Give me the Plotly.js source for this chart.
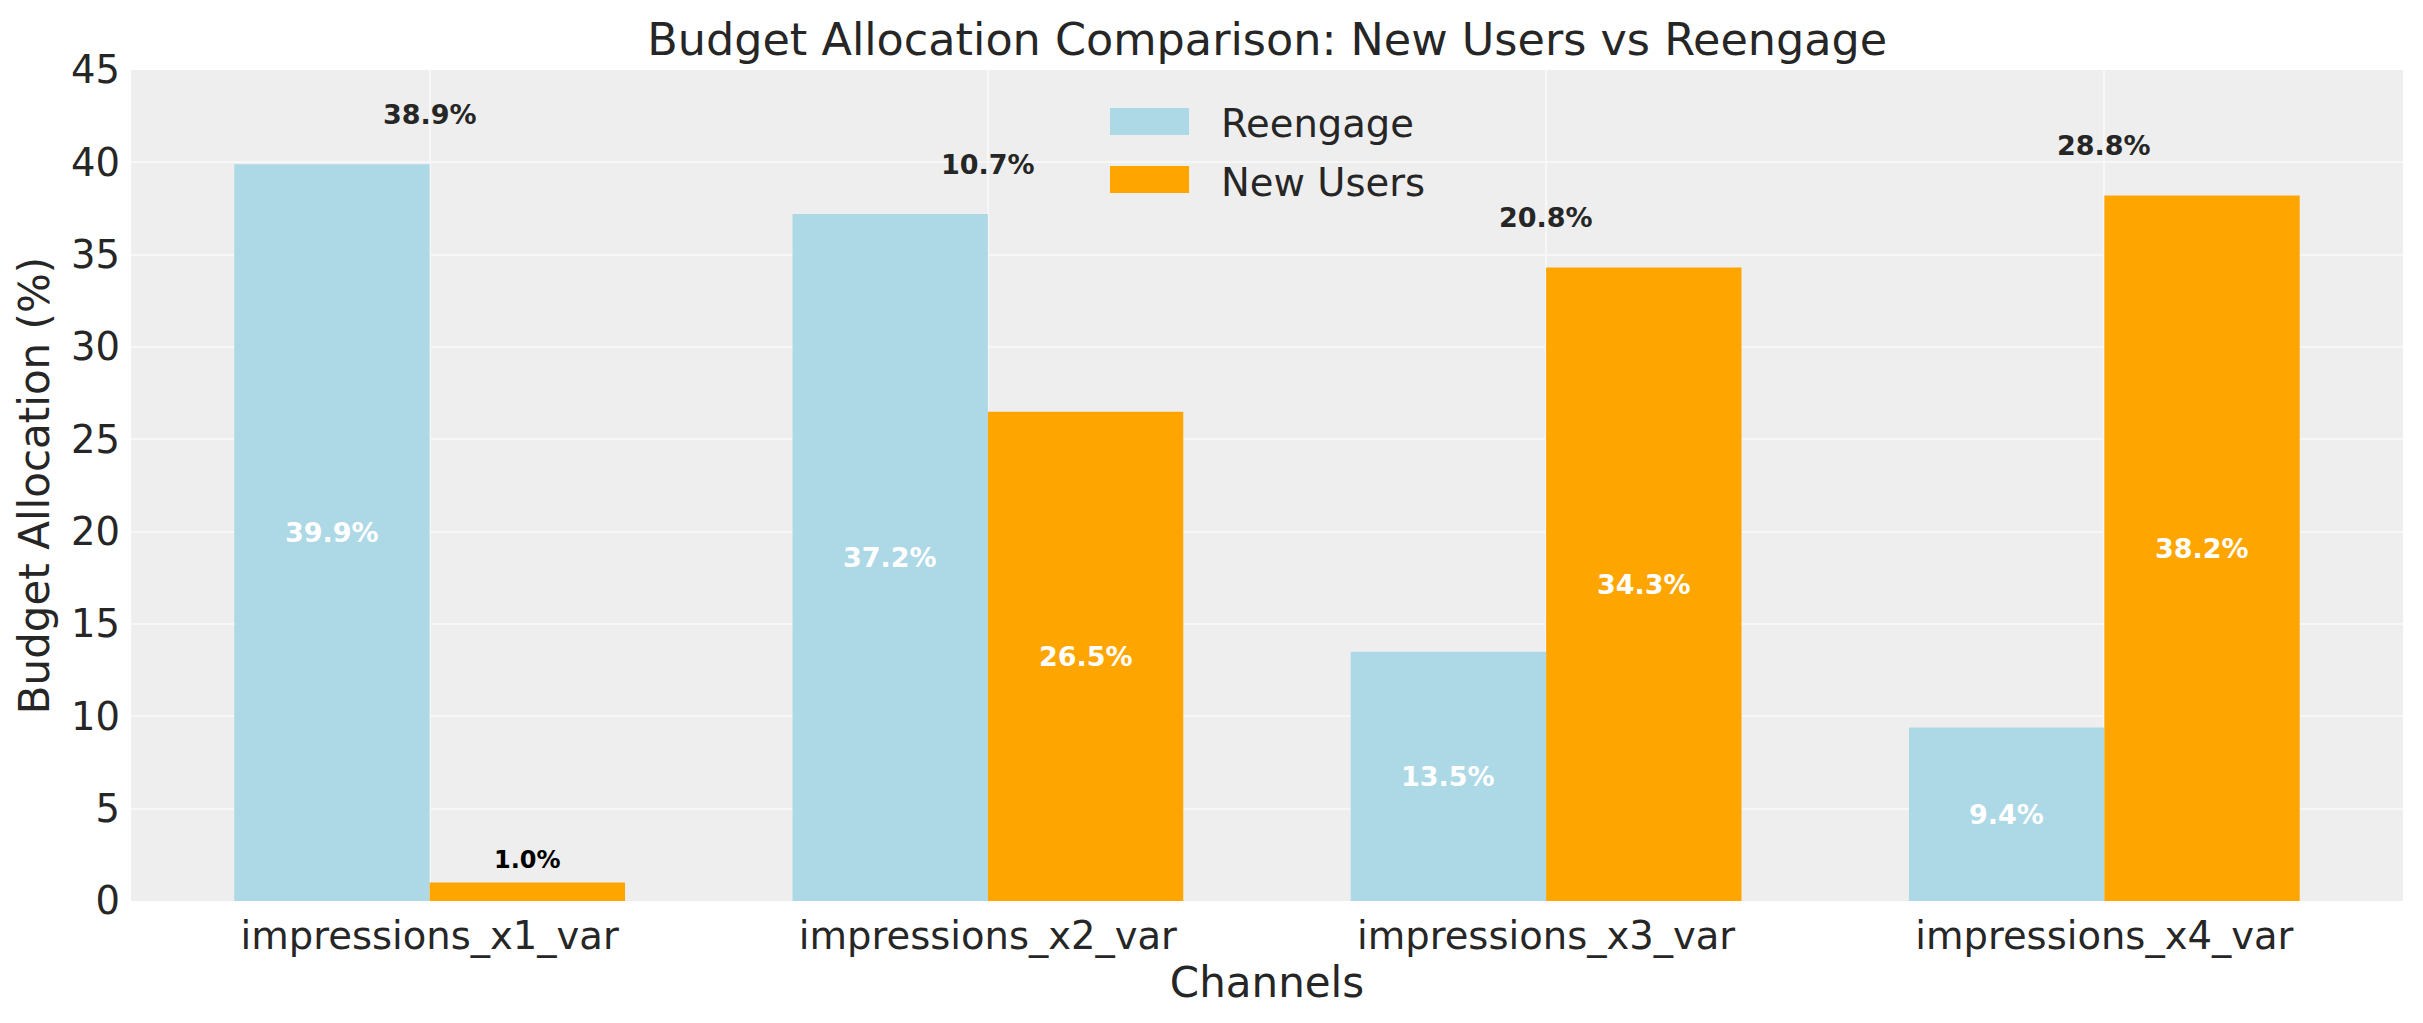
<!DOCTYPE html>
<html>
<head>
<meta charset="utf-8">
<title>Budget Allocation Comparison</title>
<script src="https://cdn.plot.ly/plotly-3.0.1.min.js"></script>
<style>
  html, body { margin: 0; padding: 0; background: #ffffff; }
  #chart { width: 2423px; height: 1023px; }
</style>
</head>
<body>
<div id="chart"></div>
<script>
// ── Data ──
var channels = ['impressions_x1_var', 'impressions_x2_var', 'impressions_x3_var', 'impressions_x4_var'];
var seriesNames = ['Reengage', 'New Users'];
var reengageShare = [39.9, 37.2, 13.5, 9.4];
var newUsersShare = [1.0, 26.5, 34.3, 38.2];
var gapLabels = [38.9, 10.7, 20.8, 28.8];
var yTicks = [0, 5, 10, 15, 20, 25, 30, 35, 40, 45];

(function () {
  'use strict';

  var COLORS = {
    reengage: '#add8e6',
    newUsers: '#ffa500',
    text: '#262626',
    plotBg: '#eeeeee',
    grid: '#f7f7f7',
  };
  var FONT = 'DejaVu Sans, Verdana, sans-serif';
  var BAR_WIDTH = 0.35;

  function pct(v) { return v.toFixed(1) + '%'; }

  var reengageTrace = {
    type: 'bar',
    name: seriesNames[0],
    x: channels,
    y: reengageShare,
    marker: { color: COLORS.reengage },
    hoverinfo: 'skip',
  };

  var newUsersTrace = {
    type: 'bar',
    name: seriesNames[1],
    x: channels,
    y: newUsersShare,
    marker: { color: COLORS.newUsers },
    hoverinfo: 'skip',
  };

  // value labels: white in the middle of the bar, black above it when the bar is too short
  var annotations = [];
  function barLabel(idx, offset, v) {
    var small = v < 3;
    annotations.push({
      x: idx + offset, y: small ? v + 1.2 : v / 2,
      xref: 'x', yref: 'y',
      text: pct(v),
      showarrow: false,
      yanchor: 'middle',
      font: { family: FONT, size: small ? 24 : 27, weight: 'bold', color: small ? '#000000' : '#ffffff' },
    });
  }
  for (var i = 0; i < channels.length; i++) {
    barLabel(i, -BAR_WIDTH / 2, reengageShare[i]);
    barLabel(i, BAR_WIDTH / 2, newUsersShare[i]);
    annotations.push({
      x: i, y: Math.max(reengageShare[i], newUsersShare[i]) + 2.7,
      xref: 'x', yref: 'y',
      text: pct(gapLabels[i]),
      showarrow: false,
      yanchor: 'middle',
      font: { family: FONT, size: 27, weight: 'bold', color: COLORS.text },
    });
  }

  // matplotlib-style legend: wide swatches, no frame
  var shapes = [];
  var legendColors = [COLORS.reengage, COLORS.newUsers];
  var legendRows = [{ top: 0.9543, bottom: 0.9218, mid: 0.9362 }, { top: 0.8845, bottom: 0.852, mid: 0.8652 }];
  legendRows.forEach(function (row, k) {
    shapes.push({
      type: 'rect', xref: 'paper', yref: 'paper',
      x0: 0.4309, x1: 0.4657, y0: row.bottom, y1: row.top,
      fillcolor: legendColors[k], line: { width: 0 },
    });
    annotations.push({
      xref: 'paper', yref: 'paper',
      x: 0.4788, y: row.mid,
      xanchor: 'left', yanchor: 'middle',
      text: seriesNames[k],
      showarrow: false,
      font: { family: FONT, size: 38.5, color: COLORS.text },
    });
  });

  var layout = {
    width: 2423,
    height: 1023,
    margin: { l: 131, r: 20, t: 70, b: 122 },
    paper_bgcolor: '#ffffff',
    plot_bgcolor: COLORS.plotBg,
    font: { family: FONT, color: COLORS.text, size: 38 },
    barmode: 'group',
    bargap: 0.3,
    bargroupgap: 0,
    title: {
      text: 'Budget Allocation Comparison: New Users vs Reengage',
      font: { family: FONT, size: 44.5, color: COLORS.text },
      x: 0.523, xanchor: 'center',
      y: 1 - 39 / 1023, yanchor: 'middle', yref: 'container',
    },
    xaxis: {
      type: 'category',
      range: [-0.535, 3.535],
      title: { text: 'Channels', font: { size: 42 }, standoff: 11 },
      tickfont: { size: 38.5 },
      showgrid: true,
      gridcolor: COLORS.grid,
      gridwidth: 2,
      ticks: '',
      ticklabelstandoff: 8,
      showline: false,
      zeroline: false,
    },
    yaxis: {
      range: [0, 45],
      tickmode: 'array',
      tickvals: yTicks,
      title: { text: 'Budget Allocation (%)', font: { size: 42 }, standoff: 8 },
      tickfont: { size: 38.5 },
      showgrid: true,
      gridcolor: COLORS.grid,
      gridwidth: 2,
      ticks: '',
      ticklabelstandoff: 10,
      showline: false,
      zeroline: false,
    },
    showlegend: false,
    shapes: shapes,
    annotations: annotations,
  };

  Plotly.newPlot('chart', [reengageTrace, newUsersTrace], layout, { displayModeBar: false, staticPlot: true });
})();
</script>
</body>
</html>
